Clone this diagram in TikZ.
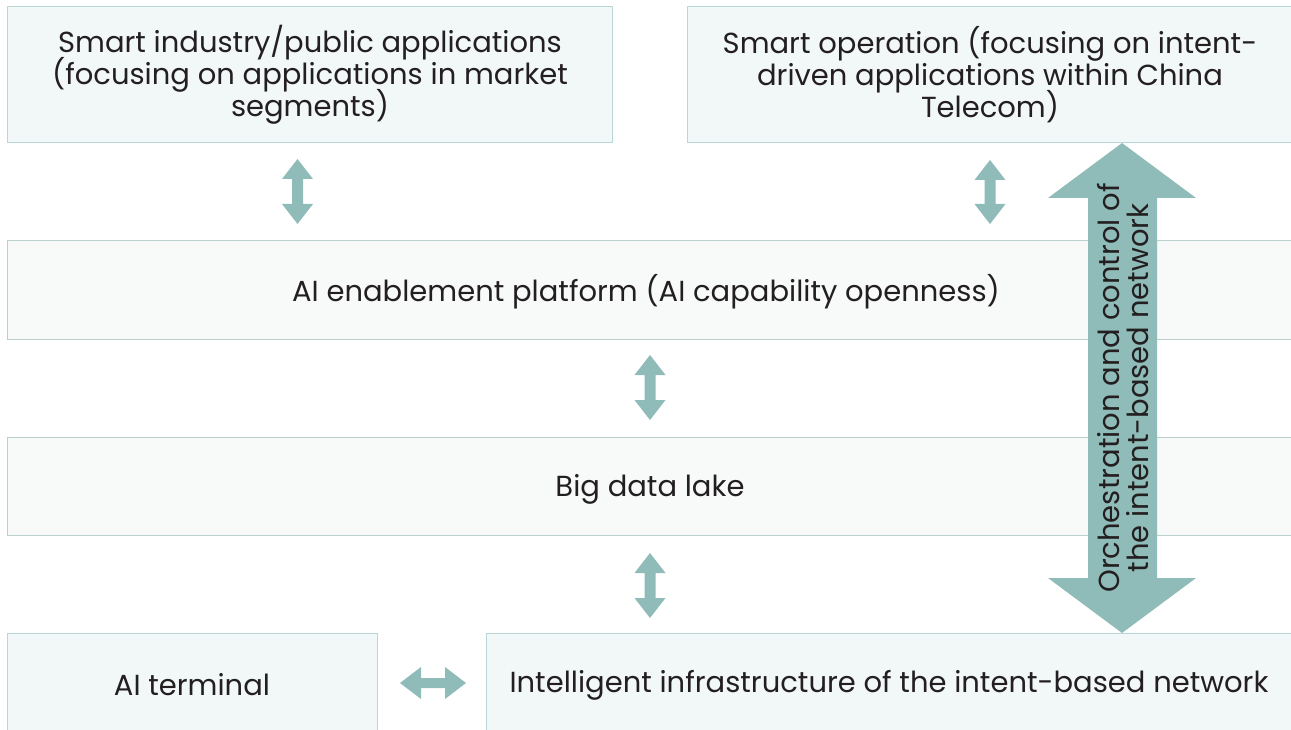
\documentclass[tikz,border=0pt]{standalone}
\usepackage{fontspec}
\setmainfont{Poppins}
\definecolor{boxfill}{HTML}{F2F7F7}
\definecolor{boxfillb}{HTML}{F8FAFA}
\definecolor{boxline}{HTML}{B7D6D5}
\definecolor{boxlineb}{HTML}{BCCFCF}
\definecolor{arrowc}{HTML}{8FBBB8}
\definecolor{txt}{HTML}{231F20}
\newcommand{\tightlines}{\lineskiplimit=-100pt\relax\lineskip=0pt\relax}
\begin{document}
\begin{tikzpicture}[x=1pt,y=-1pt,
  box/.style={draw=boxline,fill=boxfill,line width=1pt},
  boxb/.style={draw=boxlineb,fill=boxfillb,line width=1pt},
  lbl/.style={text=txt,font=\fontsize{29}{32}\selectfont\tightlines,align=center,inner sep=0pt}]
\useasboundingbox (0,0) rectangle (1291,730);
% boxes
\draw[box] (7,7) rectangle (612,143);
\node[lbl] (b1) at (310,75) {Smart industry/public applications\\(focusing on applications in market\\segments)};
\draw[box] (687,7) rectangle (1295,143);
\node[lbl] (b2) at (990,75) {Smart operation (focusing on intent-\\driven applications within China\\Telecom)};
\draw[boxb] (7,241) rectangle (1295,339);
\node[lbl] (b3) at (646,292) {AI enablement platform (AI capability openness)};
\draw[boxb] (7,437) rectangle (1295,535);
\node[lbl] (b4) at (650,489) {Big data lake};
\draw[box] (7,633) rectangle (377,735);
\node[lbl] (b5) at (192,685) {AI terminal};
\draw[box] (486,633) rectangle (1295,735);
\node[lbl] (b6) at (889,685) {Intelligent infrastructure of the intent-based network};
% small vertical double arrows
\newcommand{\vdbl}[3]{% x, ytop, ybottom
  \fill[arrowc] (#1,#2) -- (#1+15.5,#2+20) -- (#1+5.5,#2+20) -- (#1+5.5,#3-20) -- (#1+15.5,#3-20) -- (#1,#3) -- (#1-15.5,#3-20) -- (#1-5.5,#3-20) -- (#1-5.5,#2+20) -- (#1-15.5,#2+20) -- cycle;}
\vdbl{297.5}{159}{224}
\vdbl{990}{160}{224}
\vdbl{650}{355}{420}
\vdbl{650}{553}{618}
% horizontal double arrow
\fill[arrowc] (400,683) -- (421,667) -- (421,678) -- (445,678) -- (445,667) -- (466,683) -- (445,699) -- (445,688) -- (421,688) -- (421,699) -- cycle;
% big double arrow
\fill[arrowc] (1122,143) -- (1196,198) -- (1157,198) -- (1157,578) -- (1196,578) -- (1122,633) -- (1048,578) -- (1088,578) -- (1088,198) -- (1048,198) -- cycle;
\node[lbl,rotate=90,font=\fontsize{29}{29}\selectfont\tightlines] (orch) at (1123,388) {Orchestration and control of\\the intent-based network};
\end{tikzpicture}
\end{document}
